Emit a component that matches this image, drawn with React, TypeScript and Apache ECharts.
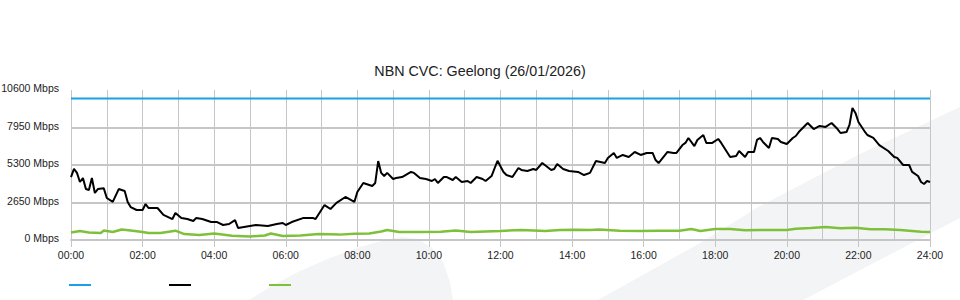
import React, { useEffect, useRef } from "react";
import * as echarts from "echarts";

const chartTitle = "NBN CVC: Geelong (26/01/2026)";
const capacityMbps = 10000;
const yMax = 10600;
const yStep = 2650;
const dayMinutes = 1440;
const hourStepMinutes = 120;

const trafficMinutes = [
  0, 5, 10, 15, 20, 25, 30, 35, 40, 45, 55, 60, 70, 80, 90, 95, 100, 110, 120, 125, 130, 145,
  155, 170, 175, 185, 195, 205, 210, 220, 235, 245, 255, 265, 275, 280, 290, 310, 330, 345, 355,
  360, 370, 390, 405, 410, 425, 435, 445, 460, 475, 480, 490, 505, 510, 515, 520, 525, 530, 540,
  545, 555, 570, 575, 585, 595, 605, 610, 615, 625, 630, 640, 645, 655, 665, 670, 680, 690, 695,
  705, 715, 725, 730, 740, 750, 755, 765, 775, 780, 790, 805, 810, 815, 825, 835, 850, 860, 870,
  880, 895, 900, 910, 915, 925, 935, 945, 955, 965, 975, 980, 985, 1000, 1010, 1015, 1025, 1030,
  1035, 1045, 1050, 1060, 1065, 1075, 1085, 1090, 1105, 1115, 1120, 1130, 1135, 1145, 1150, 1155,
  1160, 1170, 1175, 1185, 1190, 1200, 1210, 1215, 1220, 1235, 1245, 1255, 1265, 1275, 1285, 1290,
  1300, 1305, 1310, 1315, 1320, 1330, 1335, 1345, 1355, 1370, 1380, 1385, 1395, 1405, 1410, 1420,
  1425, 1430, 1435, 1440,
];
const trafficMbps = [
  4450, 5020, 4740, 4100, 4380, 3600, 3530, 4380, 3320, 3600, 3650, 2970, 2690, 3600, 3460, 2690,
  2330, 2120, 2120, 2540, 2260, 2260, 1770, 1480, 1910, 1560, 1480, 1340, 1560, 1480, 1270, 1270,
  1060, 1130, 1410, 850, 920, 1060, 990, 1130, 1200, 1060, 1270, 1560, 1560, 1480, 2470, 2190,
  2620, 3040, 2690, 3390, 4030, 3820, 4030, 5580, 4740, 4520, 4740, 4310, 4380, 4450, 4810, 4740,
  4380, 4310, 4170, 4310, 4030, 4450, 4450, 4240, 4450, 4100, 4170, 4030, 4450, 4310, 4170, 4520,
  5600, 4810, 4590, 4450, 5090, 4950, 4880, 5020, 4950, 5440, 4950, 5020, 5370, 5020, 4880, 4810,
  4590, 4740, 5580, 5440, 5800, 6150, 5800, 6010, 5870, 6220, 6010, 6150, 6150, 5650, 5440, 6220,
  6150, 6150, 6710, 6860, 7210, 6640, 7070, 7420, 6860, 6860, 7140, 6860, 5870, 5940, 6290, 5870,
  6220, 6220, 7070, 7210, 6930, 6500, 7210, 7140, 6930, 6780, 7210, 7350, 7630, 8270, 7840, 8060,
  7990, 8270, 7840, 7560, 7630, 8130, 9330, 8980, 8340, 7700, 7420, 7210, 6710, 6290, 5870, 5800,
  5300, 5300, 4810, 4520, 4100, 3960, 4170, 4100,
];

const utilMinutes = [
  0, 15, 30, 50, 55, 70, 85, 100, 120, 130, 150, 175, 190, 215, 240, 270, 300, 325, 335, 355, 385,
  415, 450, 475, 500, 520, 530, 550, 585, 620, 645, 670, 720, 755, 795, 820, 845, 870, 885, 920,
  955, 985, 1020, 1040, 1055, 1080, 1105, 1130, 1155, 1200, 1215, 1240, 1265, 1290, 1315, 1340,
  1365, 1390, 1425, 1440,
];
const utilMbps = [
  530, 640, 530, 500, 670, 570, 740, 670, 570, 500, 500, 660, 420, 350, 460, 300, 250, 320, 460,
  280, 320, 420, 380, 450, 460, 600, 710, 570, 570, 590, 670, 570, 640, 710, 640, 710, 730, 710,
  740, 660, 640, 660, 660, 780, 640, 780, 780, 690, 710, 710, 800, 850, 920, 830, 860, 760, 760,
  710, 590, 570,
];

const FONT = "'Liberation Sans', Arial, Helvetica, sans-serif";
const gridColor = "#c6c6c6";
const bgShape = "#f3f4f6";

export default function App() {
  const ref = useRef<HTMLDivElement>(null);

  useEffect(() => {
    if (!ref.current) return;
    const chart = echarts.init(ref.current, undefined, { renderer: "svg" });
    const hLineColors = [gridColor, gridColor, gridColor, gridColor, "rgba(0,0,0,0)"];

    chart.setOption({
      animation: false,
      backgroundColor: "#ffffff",
      textStyle: { fontFamily: FONT },
      title: {
        text: chartTitle,
        left: "center",
        top: 59,
        textStyle: { fontSize: 14.3, fontWeight: "normal", color: "#222", fontFamily: FONT },
      },
      graphic: [
        {
          type: "polygon",
          z: -10,
          silent: true,
          shape: {
            points: [
              [249, 300], [275, 284], [300, 271], [330, 258], [360, 247], [385, 240], [402, 237],
              [418, 239], [432, 248], [443, 262], [450, 282], [453, 300],
            ],
          },
          style: { fill: bgShape },
        },
        {
          type: "polygon",
          z: -10,
          silent: true,
          shape: {
            points: [
              [598, 300], [700, 243], [760, 206], [860, 154], [960, 107], [960, 218], [803, 300],
            ],
          },
          style: { fill: bgShape },
        },
      ],
      legend: [
        { name: "Capacity", left: 69 },
        { name: "Traffic", left: 169 },
        { name: "Utilisation", left: 269 },
      ].map((l) => ({
        data: [l.name],
        left: l.left,
        top: 284,
        padding: 0,
        icon: "rect",
        itemWidth: 22,
        itemHeight: 2,
        formatter: () => "",
        selectedMode: false,
        textStyle: { fontSize: 1 },
      })),
      grid: { left: 71, right: 30, top: 90, bottom: 60, outerBoundsMode: "none", containLabel: false },
      xAxis: {
        type: "value",
        min: 0,
        max: dayMinutes,
        interval: hourStepMinutes,
        axisLine: { show: true, lineStyle: { color: gridColor, width: 2 } },
        axisTick: { show: true, length: 7, lineStyle: { color: gridColor, width: 1 } },
        minorTick: { show: false, splitNumber: 2 },
        minorSplitLine: { show: true, lineStyle: { color: gridColor, width: 1 } },
        splitLine: { show: true, lineStyle: { color: gridColor, width: 1 } },
        axisLabel: {
          margin: 9,
          fontSize: 10.5,
          color: "#222",
          fontFamily: FONT,
          formatter: (v: number) => String(Math.round(v / 60)).padStart(2, "0") + ":00",
        },
      },
      yAxis: {
        type: "value",
        min: 0,
        max: yMax,
        interval: yStep,
        axisLine: { show: false },
        axisTick: { show: false },
        splitLine: { show: true, lineStyle: { color: hLineColors, width: 2 } },
        axisLabel: {
          margin: 12,
          fontSize: 10.5,
          color: "#222",
          fontFamily: FONT,
          verticalAlign: "bottom",
          lineHeight: 4,
          formatter: (v: number) => `${v} Mbps`,
        },
      },
      series: [
        {
          name: "Capacity",
          type: "line",
          symbol: "none",
          color: "#1ba1e2",
          lineStyle: { color: "#1ba1e2", width: 2 },
          data: [
            [0, capacityMbps],
            [dayMinutes, capacityMbps],
          ],
          z: 3,
        },
        {
          name: "Traffic",
          type: "line",
          symbol: "none",
          color: "#000000",
          lineStyle: { color: "#000000", width: 2 },
          data: trafficMinutes.map((m, i) => [m, trafficMbps[i]]),
          z: 4,
        },
        {
          name: "Utilisation",
          type: "line",
          symbol: "none",
          color: "#7fc03a",
          lineStyle: { color: "#7fc03a", width: 2.5 },
          data: utilMinutes.map((m, i) => [m, utilMbps[i]]),
          z: 3,
        },
      ],
    });
    return () => chart.dispose();
  }, []);

  return (
    <div
      ref={ref}
      style={{ position: "fixed", left: 0, top: 0, width: 960, height: 300 }}
    />
  );
}
